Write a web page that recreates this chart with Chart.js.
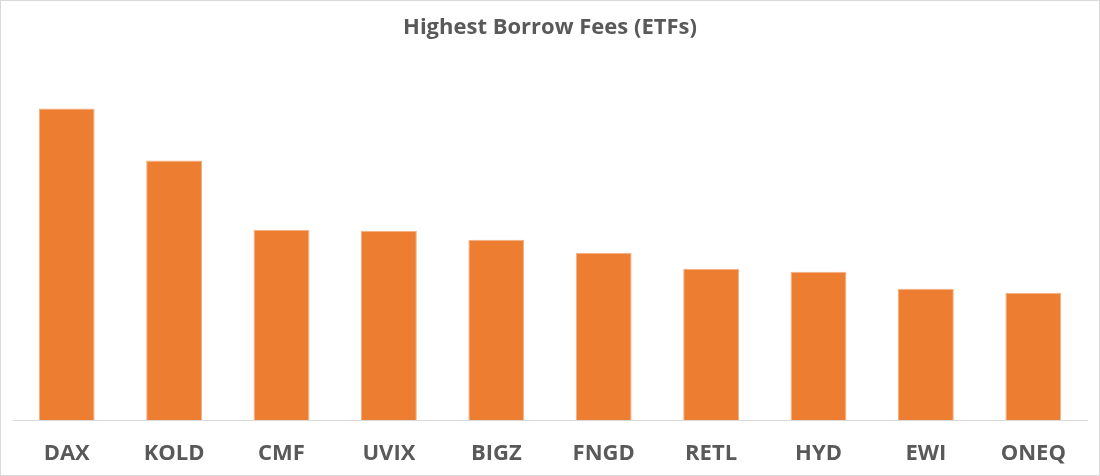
<!DOCTYPE html>
<html>
<head>
<meta charset="utf-8">
<script src="https://cdn.jsdelivr.net/npm/chart.js@4/dist/chart.umd.min.js"></script>
<style>
    html, body { margin: 0; padding: 0; background: #fff; }
    #wrap {
        width: 1100px;
        height: 476px;
        box-sizing: border-box;
        border: 1px solid #d9d9d9;
    }
    canvas { display: block; }
</style>
</head>
<body>
<div id="wrap"><canvas id="feesChart" width="1098" height="474"></canvas></div>
<script>
    // Données (unités relatives)
    const tickers = ['DAX', 'KOLD', 'CMF', 'UVIX', 'BIGZ', 'FNGD', 'RETL', 'HYD', 'EWI', 'ONEQ'];
    const borrowFees = [311, 259, 190, 189, 180, 167, 151, 148, 131, 127];
    const yMax = 358;

    document.addEventListener('DOMContentLoaded', () => {
        const ctx = document.getElementById('feesChart').getContext('2d');
        new Chart(ctx, {
            type: 'bar',
            data: {
                labels: tickers,
                datasets: [{
                    label: 'Borrow fee',
                    data: borrowFees,
                    backgroundColor: '#ED7D31',
                    borderColor: '#F4B183',
                    borderWidth: 1,
                    barPercentage: 0.52,
                    categoryPercentage: 1
                }]
            },
            options: {
                responsive: false,
                animation: false,
                layout: {
                    padding: { top: 0, right: 12, bottom: 8, left: 12 }
                },
                plugins: {
                    legend: { display: false },
                    tooltip: { enabled: false },
                    title: {
                        display: true,
                        text: 'Highest Borrow Fees (ETFs)',
                        color: '#595959',
                        font: { family: 'Open Sans', size: 22, weight: 'bold' },
                        padding: { top: 14, bottom: 20 }
                    }
                },
                scales: {
                    x: {
                        grid: { display: false, drawTicks: false },
                        border: { display: true, color: '#d9d9d9', width: 1 },
                        ticks: {
                            color: '#595959',
                            padding: 21,
                            maxRotation: 0,
                            font: { family: 'Open Sans', size: 22, weight: 'bold' }
                        },
                        // hauteur de l'axe fixée pour placer la ligne de base
                        afterFit: (scale) => { scale.height = 47; }
                    },
                    y: {
                        display: false,
                        min: 0,
                        max: yMax
                    }
                }
            }
        });
    });
</script>
</body>
</html>
